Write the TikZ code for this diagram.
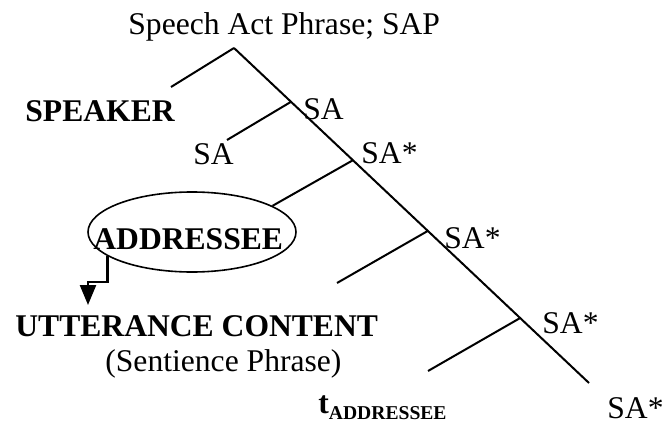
\documentclass[tikz,border=0pt]{standalone}
\usepackage{fontspec}
\setmainfont{Liberation Serif}
\usetikzlibrary{calc,shapes.geometric,arrows.meta}
\begin{document}
\begin{tikzpicture}[x=0.5pt,y=-0.5pt,
  lbl/.style={anchor=base west,inner sep=0pt,font=\fontsize{15.8}{18}\selectfont},
  blbl/.style={lbl,font=\fontsize{15.8}{18}\selectfont\bfseries},
  branch/.style={line width=1pt},
  pointer/.style={line width=1.2pt,-{Triangle[width=8pt,length=10pt]}}]
\useasboundingbox (0,0) rectangle (662,427);

% labels
\node[lbl]  (sap)   at (128,35)  {Speech Act Phrase; SAP};
\node[blbl] (spk)   at (25,122)  {SPEAKER};
\node[lbl]  (sa0)   at (193,164) {SA};
\node[lbl]  (sa1)   at (303,120) {SA};
\node[lbl]  (sa2)   at (361,163) {SA*};
\node[lbl]  (sa3)   at (444,248) {SA*};
\node[lbl]  (sa4)   at (542,333) {SA*};
\node[lbl]  (sa5)   at (607,418) {SA*};
\node[blbl] (uc)    at (15,336)  {UTTERANCE CONTENT};
\node[lbl]  (sp)    at (105,371) {(Sentience Phrase)};
\node[blbl] (trace) at (318,413) {t\raisebox{-3pt}{\fontsize{9.8}{10}\selectfont ADDRESSEE}};
\node[blbl] (addrtext) at (93,249) {ADDRESSEE};
\node[draw,ellipse,line width=0.8pt,minimum width=104pt,minimum height=40pt,inner sep=0pt]
  (addr) at (192,232) {};

% tree skeleton
\coordinate (apex) at (234,48);
\coordinate (foot) at (589,383);
\coordinate (n1) at ($(apex)!0.1606!(foot)$);
\coordinate (n2) at ($(apex)!0.335!(foot)$);
\coordinate (n3) at ($(apex)!0.546!(foot)$);
\coordinate (n4) at ($(apex)!0.806!(foot)$);
\coordinate (spkleg) at (171,87);
\coordinate (saleg)  at (227,140);
\coordinate (leg3)   at (337,283);
\coordinate (leg4)   at (428,371);
\coordinate (bend)   at (88,282);
\coordinate (tip)    at (88,305);

\draw[branch] (apex) -- (foot);
\draw[branch] (apex) -- (spkleg);
\draw[branch] (n1) -- (saleg);
\draw[branch] (n2) -- (addr.18);
\draw[branch] (n3) -- (leg3);
\draw[branch] (n4) -- (leg4);

% movement arrow
\draw[pointer] (addr.196) |- (bend) -- (tip);
\end{tikzpicture}
\end{document}
